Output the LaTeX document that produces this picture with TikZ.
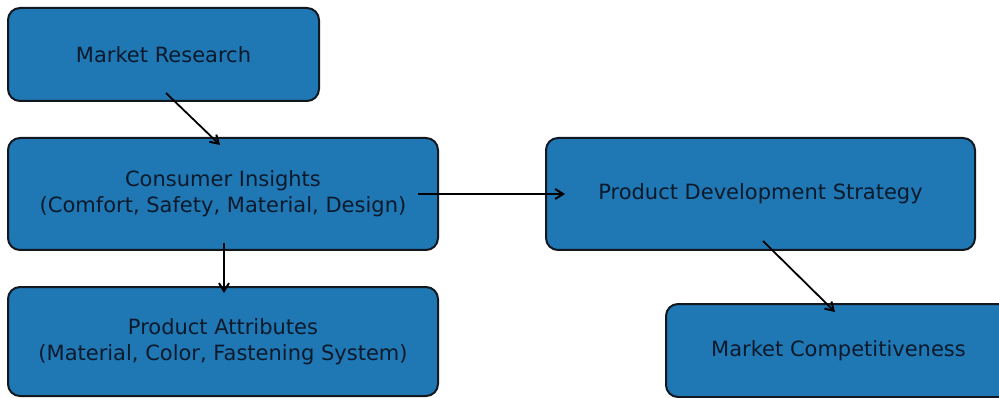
\documentclass[tikz,border=0pt]{standalone}
\usepackage{fontspec}
\setmainfont{DejaVu Sans}
\usepackage{xcolor}
\usepackage{tikz}
\usetikzlibrary{arrows.meta, positioning}
\definecolor{mplblue}{HTML}{1F77B4}
\definecolor{edgedark}{HTML}{111820}
\definecolor{textdark}{HTML}{0B1A2B}

\begin{document}
\begin{tikzpicture}[
  x=1pt, y=-1pt,
  box/.style={rectangle, rounded corners=12pt, draw=edgedark, fill=mplblue, line width=2pt, outer sep=0pt, align=center, text=textdark, font=\fontsize{21}{26}\selectfont},
  arrow/.style={-{Straight Barb[length=8pt, width=10pt, line width=2pt]}, line width=1.8pt, color=black}
]
  \clip (0,0) rectangle (999,398);
  \useasboundingbox (0,0) rectangle (999,398);

  % Left column
  \node[box, minimum width=311pt, minimum height=93pt] (research) at (163.5,54.5) {Market Research};
  \node[box, minimum width=430pt, minimum height=112pt, below right=37pt and 0pt of research.south west] (insights) {Consumer Insights\\(Comfort, Safety, Material, Design)};
  \node[box, minimum width=430pt, minimum height=109pt, below=37pt of insights] (attributes) {Product Attributes\\(Material, Color, Fastening System)};

  % Right column
  \node[box, minimum width=429pt, minimum height=112pt, right=108pt of insights] (strategy) {Product Development Strategy};
  \node[box, minimum width=345pt, minimum height=93pt, below right=54pt and 120pt of strategy.south west] (compete) {Market Competitiveness};

  % Connections
  \draw[arrow] ([xshift=2.5pt, yshift=8pt]research.south) -- ([xshift=-3pt, yshift=-7pt]insights.north);
  \draw[arrow] ([xshift=1pt, yshift=7pt]insights.south) -- ([xshift=1pt, yshift=-6pt]attributes.north);
  \draw[arrow] ([xshift=-20pt]insights.east) -- ([xshift=19pt]strategy.west);
  \draw[arrow] ([xshift=2.5pt, yshift=9pt]strategy.south) -- ([xshift=-3.5pt, yshift=-8pt]compete.north);
\end{tikzpicture}
\end{document}
